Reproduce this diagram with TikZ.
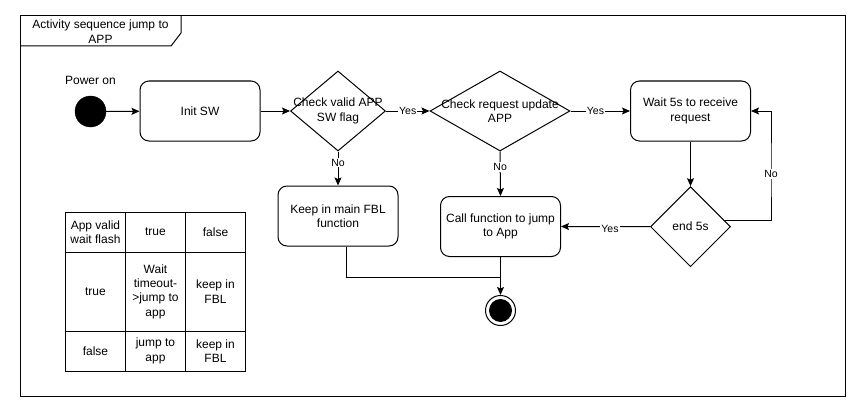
\documentclass[tikz,border=0pt]{standalone}
\usepackage{fontspec}
\setmainfont{Liberation Sans}
\usetikzlibrary{shapes.geometric,arrows.meta}
\begin{document}
\begin{tikzpicture}[x=1pt,y=-1pt,
  every node/.style={font=\fontsize{12}{14.4}\selectfont},
  line/.style={line width=1pt,draw=black},
  arrow/.style={line, -{Stealth[length=8pt,width=7pt,inset=1.5pt]}},
  actbox/.style={draw, line width=1pt, rounded corners=9pt, minimum width=120pt,
    minimum height=60pt, align=center, inner sep=0pt},
  decision/.style={draw, line width=1pt, diamond, inner sep=0pt},
  lbl/.style={fill=white, inner sep=1pt, font=\fontsize{10.5}{12}\selectfont},
  cell/.style={draw, line width=1pt, align=center, inner sep=0pt, minimum width=60pt}
]
\useasboundingbox (0,0) rectangle (862,412);

% frame with title tab
\draw[line] (20,16) rectangle (845,396);
\draw[line] (20,46) -- (171,46) -- (181,33) -- (181,16);
\node[align=center] (title) at (100.5,31.5) {Activity sequence jump to\\APP};

% initial state
\node[circle, fill=black, draw=black, minimum size=31pt, inner sep=0pt] (start) at (90.5,111.5) {};
\node (poweron) at (90.5,80.5) {Power on};

% activities
\node[actbox] (init) at (200,111) {Init SW};
\node[decision, minimum width=95pt, minimum height=80pt] (d1) at (338,111) {};
\node[align=center] (d1text) at (338,111) {Check valid APP\\SW flag};
\node[decision, minimum width=140pt, minimum height=80pt] (d2) at (500,111) {};
\node[align=center] (d2text) at (500,111) {Check request update\\APP};
\node[actbox] (wait) at (690.5,111) {Wait 5s to receive\\request};
\node[decision, minimum width=80pt, minimum height=80pt] (e5) at (690.5,226.7) {};
\node (e5text) at (690.5,226.7) {end 5s};
\node[actbox] (keep) at (338,216) {Keep in main FBL\\function};
\node[actbox] (call) at (500.5,226.5) {Call function to jump\\to App};

% final state
\node[circle, draw=black, line width=1pt, fill=white, minimum size=30pt, inner sep=0pt] (final) at (500.5,310.5) {};
\node[circle, fill=black, minimum size=23pt, inner sep=0pt] (finaldot) at (final.center) {};

% connectors
\draw[arrow] (start) -- (init);
\draw[arrow] (init) -- (d1.west);
\draw[arrow] (d1.east) -- node[lbl, pos=0.5]{Yes} (d2.west);
\draw[arrow] (d2.east) -- node[lbl, pos=0.42]{Yes} (wait.west);
\draw[arrow] (d1.south) -- node[lbl, pos=0.33]{No} (keep.north);
\draw[arrow] (d2.south) -- node[lbl, pos=0.35]{No} (call.north);
\draw[arrow] (wait.south) -- (e5.north);
\coordinate (loop) at (771,174);
\draw[arrow] (e5.10) -| (loop) node[lbl]{No} |- (wait.east);
\draw[arrow] (e5.west) -- node[lbl, pos=0.45, yshift=-2pt]{Yes} (call.east);
\coordinate (join) at (500.5,277);
\draw[line] ([xshift=8pt]keep.south) |- (join);
\draw[arrow] (call.south) -- (final.north);

% decision table
\node[cell, minimum height=40pt] (c11) at (95.5,232) {App valid\\wait flash};
\node[cell, minimum height=40pt] (c12) at (155.5,232) {true};
\node[cell, minimum height=40pt] (c13) at (215.5,232) {false};
\node[cell, minimum height=79pt] (c21) at (95.5,291.5) {true};
\node[cell, minimum height=79pt] (c22) at (155.5,291.5) {Wait\\timeout-\\>jump to\\app};
\node[cell, minimum height=79pt] (c23) at (215.5,291.5) {keep in\\FBL};
\node[cell, minimum height=40pt] (c31) at (95.5,351) {false};
\node[cell, minimum height=40pt] (c32) at (155.5,351) {jump to\\app};
\node[cell, minimum height=40pt] (c33) at (215.5,351) {keep in\\FBL};
\end{tikzpicture}
\end{document}
